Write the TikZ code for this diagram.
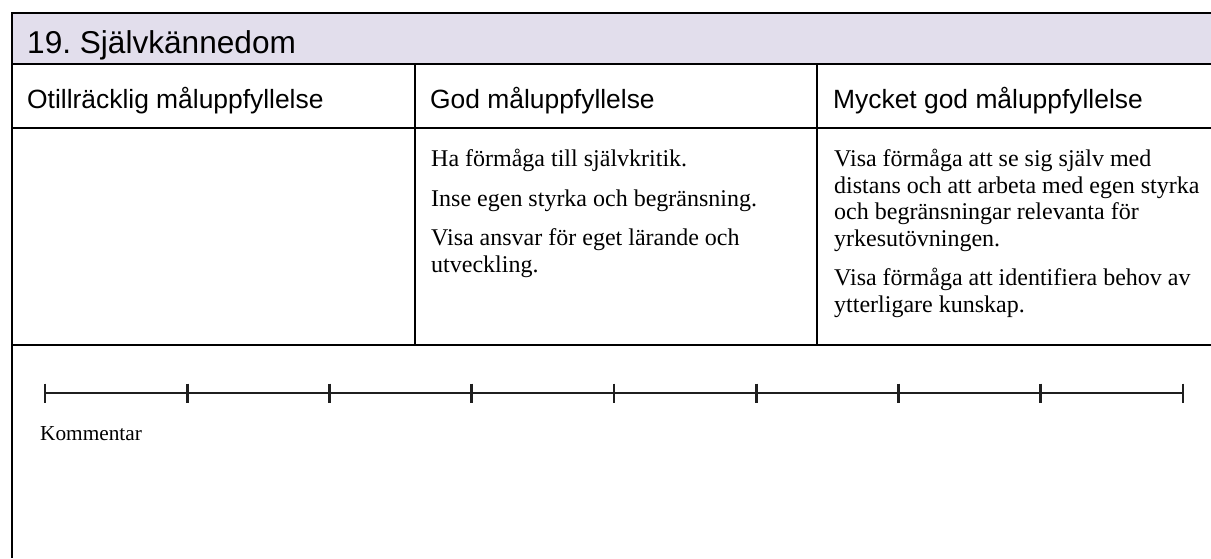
\documentclass[tikz,border=0pt]{standalone}
\usepackage{fontspec}
\setmainfont{Liberation Serif}
\newfontfamily\arialf{Liberation Sans}
\frenchspacing
\definecolor{headfill}{RGB}{226,222,236}
\tikzset{
  rule/.style={line width=2pt, black},
  titletext/.style={anchor=base west, inner sep=0pt, font=\arialf\fontsize{31.6}{34}\selectfont},
  headtext/.style={anchor=base west, inner sep=0pt, font=\arialf\fontsize{26.4}{29}\selectfont},
  bodytext/.style={anchor=base west, inner sep=0pt, font=\fontsize{24}{26.5}\selectfont},
  commtext/.style={anchor=base west, inner sep=0pt, font=\fontsize{21.3}{24}\selectfont},
  scaleline/.style={line width=1.8pt, black!88},
  tickmark/.style={line width=2.6pt, black!88}
}
\begin{document}
\begin{tikzpicture}[x=1pt,y=-1pt]
\useasboundingbox (0,0) rectangle (1211,558);
% header band
\fill[headfill] (12,13) rectangle (1211,64);
% frame and rules
\draw[rule] (1211,13) -- (12,13) -- (12,558);
\draw[rule] (12,64) -- (1211,64);
\draw[rule] (12,128) -- (1211,128);
\draw[rule] (12,345) -- (1211,345);
\draw[rule] (415,64) -- (415,345);
\draw[rule] (817,64) -- (817,345);
% title
\node[titletext] (title) at (27,53.3) {19. Självkännedom};
% column headers
\node[headtext] (h1) at (27,108) {Otillräcklig måluppfyllelse};
\node[headtext] (h2) at (430,108) {God måluppfyllelse};
\node[headtext] (h3) at (833,108) {Mycket god måluppfyllelse};
% middle column
\node[bodytext] (m1) at (431,166.5) {Ha förmåga till självkritik.};
\node[bodytext] (m2) at (431,206) {Inse egen styrka och begränsning.};
\node[bodytext] (m3) at (431,245.5) {Visa ansvar för eget lärande och};
\node[bodytext] (m4) at (431,272) {utveckling.};
% right column
\node[bodytext] (r1) at (834,166.5) {Visa förmåga att se sig själv med};
\node[bodytext] (r2) at (834,193) {distans och att arbeta med egen styrka};
\node[bodytext] (r3) at (834,219.5) {och begränsningar relevanta för};
\node[bodytext] (r4) at (834,246) {yrkesutövningen.};
\node[bodytext] (r5) at (834,285.5) {Visa förmåga att identifiera behov av};
\node[bodytext] (r6) at (834,312) {ytterligare kunskap.};
% scale
\foreach \i in {0,...,8} {
  \coordinate (t\i) at ({45+\i*142.25},393);
}
\draw[scaleline] (t0) -- (t8);
\foreach \i in {0,...,8} {
  \draw[tickmark] ([yshift=9.5pt]t\i) -- ([yshift=-9.5pt]t\i);
}
\node[commtext] (komm) at (40,440) {Kommentar};
\end{tikzpicture}
\end{document}
